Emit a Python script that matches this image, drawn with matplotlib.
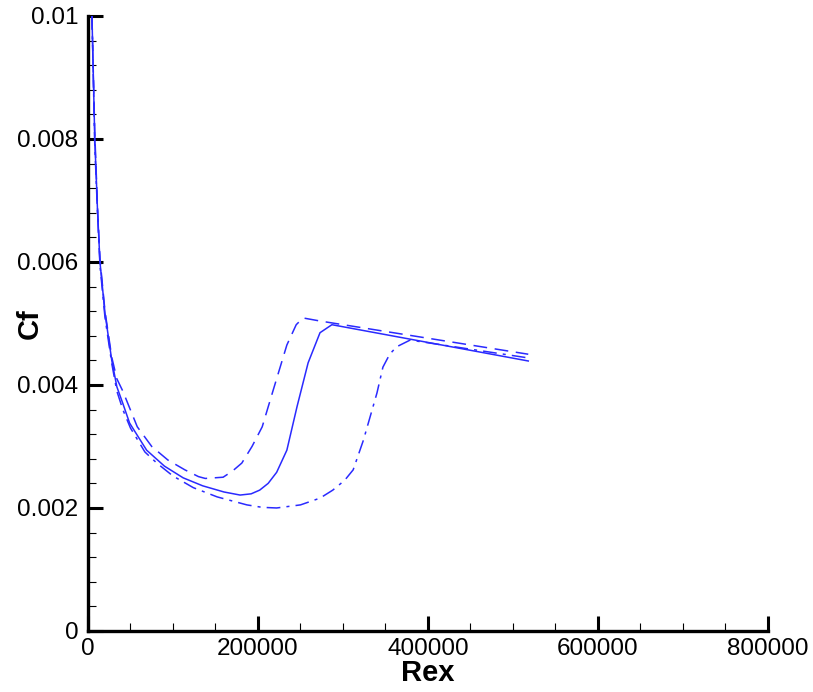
import numpy as np
import matplotlib
matplotlib.use('Agg')
import matplotlib.pyplot as plt
from matplotlib.ticker import MultipleLocator, FuncFormatter

plt.rcParams['font.family'] = ['Liberation Sans', 'DejaVu Sans']

## Data
# solid curve
rex_solid = [4700, 8000, 11200, 14100, 20000, 28000, 34000, 41000, 49000, 69000,
             90000, 112000, 135000, 160000, 179000, 192000, 202000, 212000, 222000,
             234000, 246000, 259000, 273000, 287000, 518000]
cf_solid = [0.0100, 0.0080, 0.00685, 0.0060, 0.00517, 0.0044, 0.00397, 0.00370, 0.00338,
            0.00294, 0.00268, 0.00249, 0.00236, 0.00226, 0.00221, 0.00223, 0.00229, 0.0024,
            0.00258, 0.00294, 0.00365, 0.00436, 0.00485, 0.00498, 0.00439]

# dashed curve
rex_dash = [4700, 8000, 11200, 14100, 20000, 28000, 34000, 41000, 58000, 75000, 94000,
            114000, 130000, 138000, 159000, 170000, 181000, 193000, 205000, 218000,
            234000, 245000, 253000, 273000, 518000]
cf_dash = [0.0100, 0.0081, 0.0069, 0.00605, 0.0052, 0.00445, 0.0041, 0.0039, 0.00332,
           0.00300, 0.00278, 0.00262, 0.00251, 0.00248, 0.0025, 0.0026, 0.00273, 0.003,
           0.00332, 0.00392, 0.00465, 0.00498, 0.00509, 0.00504, 0.00450]

# dash-dot curve
rex_dd = [4700, 8000, 11200, 14100, 20000, 28000, 34000, 41000, 50000, 67000, 81000,
          100000, 124000, 152000, 187000, 205000, 222000, 250000, 273000, 288000, 302000,
          312000, 324000, 340000, 347000, 355000, 363000, 379000, 518000]
cf_dd = [0.0100, 0.0079, 0.0068, 0.00595, 0.0051, 0.00435, 0.0039, 0.0036, 0.0033,
         0.00291, 0.00273, 0.00252, 0.00233, 0.00218, 0.00205, 0.00201, 0.0020, 0.00205,
         0.00216, 0.00229, 0.00245, 0.00262, 0.0031, 0.00387, 0.00429, 0.00450, 0.00462,
         0.00473, 0.00444]

fig = plt.figure(figsize=(8.13, 6.92), dpi=100)
ax = fig.add_axes([0.1082, 0.0882, 0.8364, 0.8887])

ax.plot(rex_solid, cf_solid, color='#2a2aff', lw=1.1, ls='-')
ax.plot(rex_dash, cf_dash, color='#2a2aff', lw=1.1, ls=(0, (9, 5)))
ax.plot(rex_dd, cf_dd, color='#2a2aff', lw=1.1, ls=(0, (9, 4, 2, 4)))

ax.set_xlim(0, 800000)
ax.set_ylim(0, 0.01)

ax.spines['top'].set_visible(False)
ax.spines['right'].set_visible(False)
ax.spines['left'].set_linewidth(2.4)
ax.spines['bottom'].set_linewidth(2.4)

ax.xaxis.set_major_locator(MultipleLocator(200000))
ax.xaxis.set_minor_locator(MultipleLocator(50000))
ax.yaxis.set_major_locator(MultipleLocator(0.002))
ax.yaxis.set_minor_locator(MultipleLocator(0.0004))
ax.xaxis.set_major_formatter(FuncFormatter(lambda v, p: '%d' % round(v)))
ax.yaxis.set_major_formatter(FuncFormatter(lambda v, p: '0' if abs(v) < 1e-12 else ('%.3f' % v).rstrip('0')))

ax.tick_params(which='major', direction='in', length=11, width=2.2, labelsize=17.5, pad=7)
ax.tick_params(which='minor', direction='in', length=5.5, width=0.8)
ax.tick_params(axis='x', which='major', pad=5)

ax.set_xlabel('Rex', fontsize=21, fontweight='bold', labelpad=-1)
ax.set_ylabel('Cf', fontsize=21, fontweight='bold')
ax.yaxis.set_label_coords(-0.065, 0.5)

fig.savefig('out.png', dpi=100)
